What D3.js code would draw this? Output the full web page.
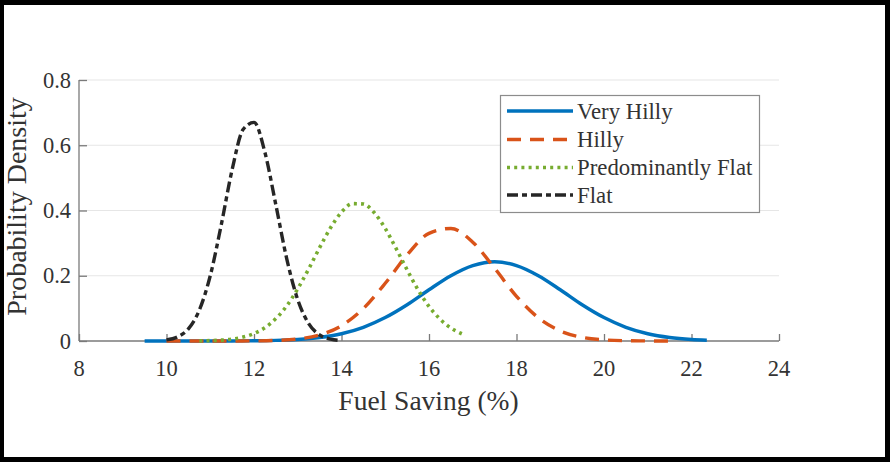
<!DOCTYPE html>
<html>
<head>
<meta charset="utf-8">
<script src="https://cdn.jsdelivr.net/npm/d3@7"></script>
<style>
  html, body { margin: 0; padding: 0; background: #000; }
  svg { display: block; }
  text { font-family: "Liberation Serif", "Times New Roman", serif; fill: #333; }
</style>
</head>
<body>
<svg id="chart" width="890" height="462"></svg>
<script>
// ---- Data ----
const seriesNames = ["Very Hilly", "Hilly", "Predominantly Flat", "Flat"];

const veryHillyX = [9.5,10,10.5,11,11.5,12,12.5,13,13.5,14,14.5,15,15.5,16,16.5,17,17.5,18,18.5,19,19.5,20,20.5,21,21.5,22,22.35];
const veryHillyY = [0,0,0,0.0001,0.0002,0.0007,0.0018,0.0047,0.0107,0.0222,0.0419,0.0717,0.111,0.157,0.200,0.231,0.243,0.231,0.200,0.157,0.111,0.0717,0.0419,0.0222,0.0107,0.0047,0.0025];

const hillyX = [10,10.5,11,11.5,12,12.5,13,13.5,14,14.5,15,15.5,16,16.5,17,17.5,18,18.5,19,19.5,20,20.5,21,21.5];
const hillyY = [0,0,0,0.0001,0.0004,0.0017,0.0061,0.0185,0.047,0.0996,0.177,0.264,0.330,0.345,0.303,0.223,0.137,0.071,0.0307,0.0112,0.0034,0.0009,0.0002,0];

const predFlatX = [10.75,11,11.25,11.5,11.75,12,12.25,12.5,12.75,13,13.25,13.5,13.75,14,14.25,14.5,14.75,15,15.25,15.5,15.75,16,16.25,16.5,16.75];
const predFlatY = [0.0005,0.0011,0.0027,0.0058,0.0119,0.0228,0.0408,0.0687,0.108,0.160,0.221,0.286,0.347,0.395,0.421,0.420,0.393,0.345,0.283,0.218,0.157,0.106,0.0673,0.0399,0.0222];

const flatX = [10,10.25,10.5,10.75,11,11.25,11.5,11.75,12,12.25,12.5,12.75,13,13.25,13.5,13.75,14];
const flatY = [0.0034,0.0123,0.0373,0.0946,0.200,0.355,0.525,0.648,0.670,0.578,0.417,0.251,0.1265,0.0533,0.0187,0.0055,0.0014];

const xTicks = [8,10,12,14,16,18,20,22,24];
const yTicks = [0,0.2,0.4,0.6,0.8];
const yTickLabels = ["0","0.2","0.4","0.6","0.8"];
const xLabel = "Fuel Saving (%)";
const yLabel = "Probability Density";

// ---- Styles ----
const colors = ["#0072BD", "#D95319", "#77AC30", "#262626"];
const dashes = [null, "14,9", "3,4.2", "11,4,5,4"];

const svg = d3.select("#chart");

// black frame with white interior
svg.append("rect").attr("x",0).attr("y",0).attr("width",890).attr("height",462).attr("fill","#000");
svg.append("rect").attr("x",4).attr("y",5).attr("width",881).attr("height",452).attr("fill","#fff");

const x = d3.scaleLinear().domain([8,24]).range([79,779]);
const y = d3.scaleLinear().domain([0,0.8]).range([341,80]);

// gridlines
svg.append("g").selectAll("line").data(yTicks.filter(d => d > 0)).join("line")
  .attr("x1", x(8)).attr("x2", x(24))
  .attr("y1", d => y(d)).attr("y2", d => y(d))
  .attr("stroke", "#e6e6e6").attr("stroke-width", 1.2);

// axes
const axisColor = "#7a7a7a";
const xAxis = svg.append("g").attr("transform", `translate(0,${y(0)})`)
  .call(d3.axisBottom(x).tickValues(xTicks).tickSize(-7).tickFormat(""));
const yAxis = svg.append("g").attr("transform", `translate(${x(8)},0)`)
  .call(d3.axisLeft(y).tickValues(yTicks).tickSize(-8).tickFormat(""));
[xAxis, yAxis].forEach(g => {
  g.select(".domain").attr("stroke", axisColor).attr("stroke-width", 1.3);
  g.selectAll(".tick line").attr("stroke", axisColor).attr("stroke-width", 1.3);
});
xAxis.select(".domain").attr("d", `M${x(8)},0H${x(24)}`);
yAxis.select(".domain").attr("d", `M0,${y(0.8)}V${y(0)}`);

// tick labels
svg.append("g").selectAll("text").data(xTicks).join("text")
  .attr("x", d => x(d)).attr("y", 375.5)
  .attr("text-anchor", "middle").attr("font-size", 22.5)
  .text(d => d);
svg.append("g").selectAll("text").data(yTicks).join("text")
  .attr("x", 71).attr("y", d => y(d) + 7.5)
  .attr("text-anchor", "end").attr("font-size", 22.5)
  .text((d, i) => yTickLabels[i]);

// axis labels
svg.append("text").attr("x", 428.5).attr("y", 409.5)
  .attr("text-anchor", "middle").attr("font-size", 27.5).text(xLabel);
svg.append("text").attr("transform", "translate(25.5,206.5) rotate(-90)")
  .attr("text-anchor", "middle").attr("font-size", 28).text(yLabel);

// curves
const seriesData = [
  d3.zip(veryHillyX, veryHillyY),
  d3.zip(hillyX, hillyY),
  d3.zip(predFlatX, predFlatY),
  d3.zip(flatX, flatY)
];
const line = d3.line().x(d => x(d[0])).y(d => y(d[1])).curve(d3.curveMonotoneX);
seriesData.forEach((data, i) => {
  svg.append("path").datum(data)
    .attr("d", line)
    .attr("fill", "none")
    .attr("stroke", colors[i])
    .attr("stroke-width", i === 2 ? 3.6 : 3.4)
    .attr("stroke-dasharray", dashes[i])
    .attr("stroke-linejoin", "round");
});

// legend
const lg = svg.append("g");
lg.append("rect").attr("x", 500.5).attr("y", 95.5).attr("width", 259).attr("height", 117)
  .attr("fill", "#fff").attr("stroke", "#8c8c8c").attr("stroke-width", 1.2);
const rowY = [111, 139.5, 167.5, 195];
seriesNames.forEach((name, i) => {
  lg.append("line").attr("x1", 507).attr("x2", 573)
    .attr("y1", rowY[i]).attr("y2", rowY[i])
    .attr("stroke", colors[i]).attr("stroke-width", i === 2 ? 3.6 : 3.4)
    .attr("stroke-dasharray", dashes[i]);
  lg.append("text").attr("x", 577).attr("y", rowY[i] + 7.5)
    .attr("font-size", 22.8).attr("fill", "#222").text(name);
});
</script>
</body>
</html>
